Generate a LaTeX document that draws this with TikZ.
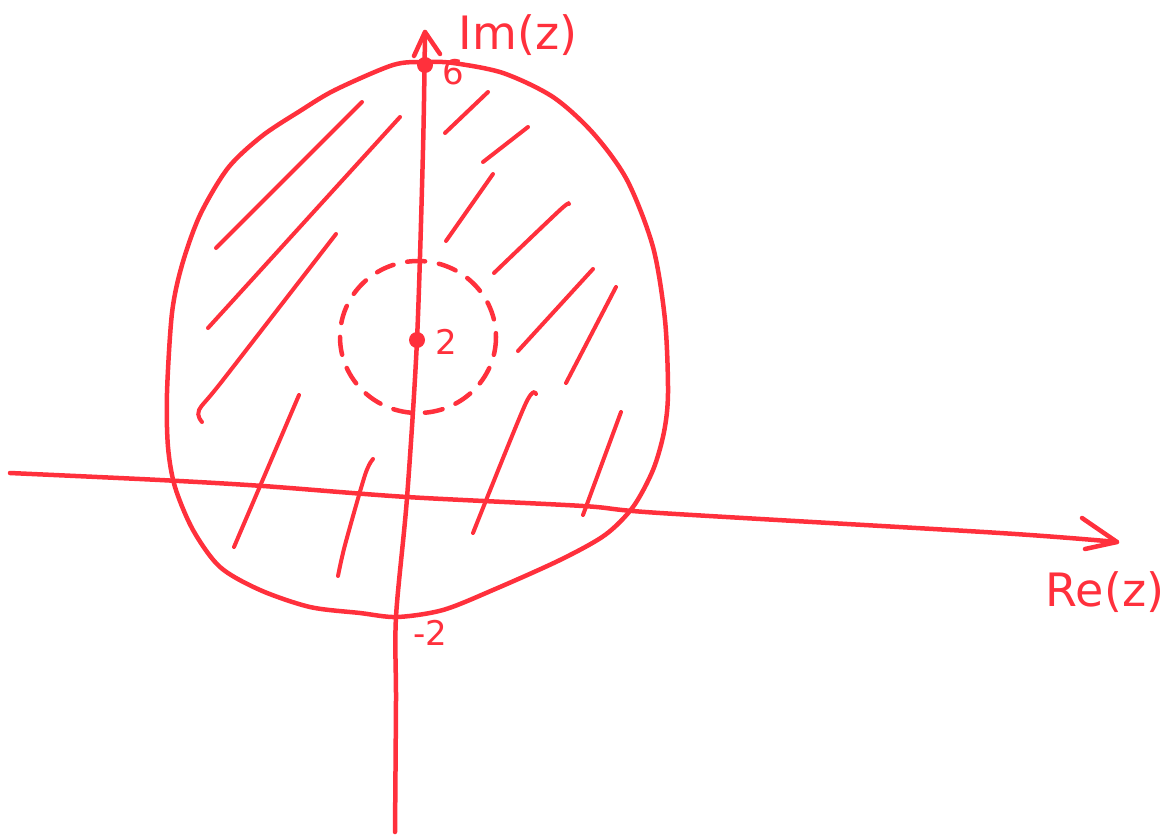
\documentclass[tikz,border=0pt]{standalone}
\usepackage{fontspec}
\setmainfont{DejaVu Sans}
\usetikzlibrary{arrows.meta}
\definecolor{pen}{RGB}{255,48,60}
\tikzset{
  ink/.style={draw=pen, line width=4.5pt, line cap=round, line join=round},
  hatch/.style={draw=pen, line width=4pt, line cap=round},
  axis/.style={draw=pen, line width=4.5pt, line cap=round, line join=round},
  lbl/.style={text=pen, font=\fontsize{46}{46}\selectfont, inner sep=0pt},
  num/.style={text=pen, font=\fontsize{34}{34}\selectfont, inner sep=0pt},
  dotstyle/.style={fill=pen, draw=none}
}
\begin{document}
\begin{tikzpicture}[x=1pt,y=-1pt]
\useasboundingbox (0,0) rectangle (1167,835);
% axes
\coordinate (xs) at (10,473);
\coordinate (xe) at (1117,542);
\coordinate (ys) at (395,832);
\coordinate (ye) at (425,32);
\draw[axis] plot[smooth] coordinates {(xs) (160,480) (263,486) (407,497) (583,506) (660,513) (1000,533) (xe)};
\draw[axis] (1082,518) -- (xe) -- (1085,549);
\draw[axis] plot[smooth] coordinates {(ys) (396,700) (396,617) (407,498) (417,340) (423,150) (ye)};
\draw[axis] (414,56) -- (ye) -- (440,54);
% region boundary
\draw[ink] plot[smooth cycle] coordinates {(425,62) (453,63) (503,73) (553,97) (593,133) (627,180) (653,247) (665,320) (668,393) (664,432) (653,470) (633,507) (605,535) (560,560) (493,590) (443,610) (397,617) (360,613) (310,607) (260,590) (220,567) (193,530) (175,487) (168,447) (167,393) (172,313) (182,265) (200,215) (228,168) (262,136) (300,111) (335,90) (393,65)};
% dashed circle
\draw[ink, dash pattern=on 18pt off 14pt] (418,337) ellipse [x radius=78, y radius=76];
% hatching
\draw[hatch] (362,102) -- (216,248);
\draw[hatch] (400,117) -- (208,328);
\draw[hatch] plot[smooth] coordinates {(336,234) (223,380) (199,410) (202,422)};
\draw[hatch] (299,395) -- (234,547);
\draw[hatch] plot[smooth] coordinates {(373,459) (365,475) (345,545) (338,576)};
\draw[hatch] (488,92) -- (445,133);
\draw[hatch] (528,127) -- (483,162);
\draw[hatch] (493,174) -- (446,241);
\draw[hatch] plot[smooth] coordinates {(569,204) (560,210) (494,273)};
\draw[hatch] (593,269) -- (518,351);
\draw[hatch] (616,287) -- (566,383);
\draw[hatch] plot[smooth] coordinates {(536,394) (525,405) (473,533)};
\draw[hatch] (621,412) -- (583,515);
% points
\fill[dotstyle] (425,65) circle (8);
\fill[dotstyle] (417,340) circle (8);
% labels
\node[lbl] (im) at (518,35) {Im(z)};
\node[num] (six) at (453,72) {6};
\node[num] (two) at (446,342) {2};
\node[num] (mtwo) at (430,633) {-2};
\node[lbl] (re) at (1105,592) {Re(z)};
\end{tikzpicture}
\end{document}
